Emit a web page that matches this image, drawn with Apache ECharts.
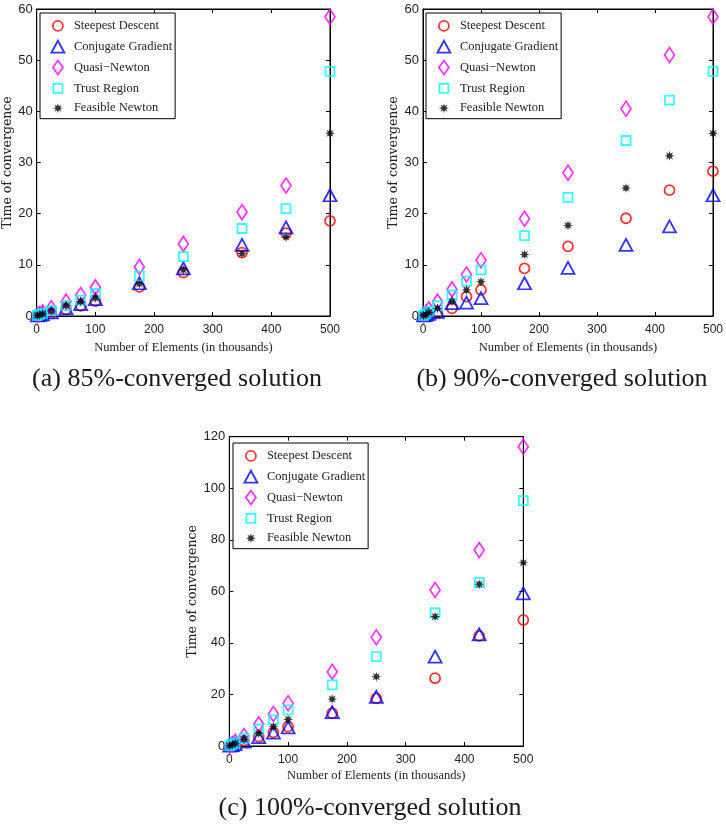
<!DOCTYPE html>
<html>
<head>
<meta charset="utf-8">
<script src="https://cdn.jsdelivr.net/npm/echarts@6/dist/echarts.min.js"></script>
<style>
html,body{margin:0;padding:0;background:#fff;}
#chart{width:726px;height:825px;}
</style>
</head>
<body>
<div id="chart"></div>
<script>
// ---- data ----
const seriesNames = ['Steepest Descent', 'Conjugate Gradient', 'Quasi\u2212Newton', 'Trust Region', 'Feasible Newton'];
const xVals = [1, 5, 10, 25, 50, 75, 100, 175, 250, 350, 425, 500];

// (a) 85%-converged
const sdA = [0.1, 0.15, 0.3, 0.5, 1.3, 2.0, 2.9, 5.7, 8.5, 12.4, 16.2, 18.6];
const cgA = [0.1, 0.2, 0.3, 0.7, 1.5, 2.3, 3.3, 6.4, 9.3, 13.9, 17.3, 23.6];
const qnA = [0.2, 0.4, 0.7, 1.5, 2.8, 4.1, 5.6, 9.6, 14.1, 20.3, 25.5, 58.5];
const trA = [0.1, 0.3, 0.5, 1.0, 2.0, 3.1, 4.4, 7.8, 11.6, 17.1, 21.0, 47.8];
const fnA = [0.1, 0.2, 0.4, 1.0, 2.1, 2.8, 3.5, 6.25, 9.0, 12.2, 15.4, 35.7];

// (b) 90%-converged
const sdB = [0.1, 0.2, 0.3, 0.5, 1.5, 3.8, 5.1, 9.3, 13.6, 19.1, 24.6, 28.3];
const cgB = [0.1, 0.2, 0.4, 0.8, 2.5, 2.6, 3.5, 6.4, 9.4, 13.9, 17.5, 23.6];
const qnB = [0.2, 0.6, 1.3, 2.8, 5.2, 8.1, 10.9, 19.0, 28.0, 40.5, 51.0, 58.5];
const trB = [0.1, 0.4, 0.9, 2.0, 4.1, 6.8, 9.0, 15.7, 23.2, 34.3, 42.2, 47.8];
const fnB = [0.1, 0.3, 0.7, 1.5, 2.8, 5.1, 6.7, 12.0, 17.7, 25.0, 31.3, 35.7];

// (c) 100%-converged
const sdC = [0.1, 0.4, 0.8, 2.1, 3.6, 5.3, 7.5, 12.7, 18.5, 26.3, 42.7, 48.9];
const cgC = [0.1, 0.3, 0.7, 1.7, 3.4, 5.2, 7.2, 13.1, 19.1, 34.7, 43.3, 59.2];
const qnC = [0.2, 0.8, 1.6, 3.9, 8.4, 12.4, 16.6, 28.8, 42.2, 60.5, 76.0, 116.1];
const trC = [0.1, 0.6, 1.2, 3.0, 6.5, 10.1, 14.0, 23.7, 34.7, 51.7, 63.4, 95.2];
const fnC = [0.1, 0.5, 1.0, 2.6, 4.9, 7.5, 10.3, 18.2, 26.9, 50.2, 62.8, 71.1];

const captions = ['(a) 85%-converged solution', '(b) 90%-converged solution', '(c) 100%-converged solution'];
const xName = 'Number of Elements (in thousands)';
const yName = 'Time of convergence';

// ---- styling / layout ----
function starPts(cx, cy, ro, ri) {
  const pts = [];
  const n = 8;
  for (let i = 0; i < n * 2; i++) {
    const r = i % 2 === 0 ? ro : ri;
    const a = Math.PI * i / n - Math.PI / 2;
    pts.push((cx + r * Math.cos(a)).toFixed(2) + ' ' + (cy + r * Math.sin(a)).toFixed(2));
  }
  return 'M' + pts.join(' L') + ' Z';
}
const starSymbol = 'path://' + starPts(0, 0, 10, 4.5);

const styles = [
  { symbol: 'circle', size: 10, color: '#ff0000', hollow: true },
  { symbol: 'triangle', size: [13, 12], color: '#0000ff', hollow: true },
  { symbol: 'diamond', size: [10, 15], color: '#ff00ff', hollow: true },
  { symbol: 'rect', size: 9, color: '#00ffff', hollow: true },
  { symbol: starSymbol, size: 10, color: '#000000', hollow: false }
];
// legend icons: 22x15 pixel boxes (corner moveTo points fix the box), shape centred at (11, 7.5)
const box = 'path://M0 0 M22 15 ';
const legendIcons = [
  box + 'M6 7.5 A5 5 0 1 0 16 7.5 A5 5 0 1 0 6 7.5 Z',
  box + 'M11 1.5 L17.5 13.5 L4.5 13.5 Z',
  box + 'M11 0.5 L16 7.5 L11 14.5 L6 7.5 Z',
  box + 'M6.5 3 L15.5 3 L15.5 12 L6.5 12 Z',
  box + starPts(11, 7.5, 5, 2.3)
];

const panels = [
  { data: [sdA, cgA, qnA, trA, fnA], left: 36.7, top: 9, width: 293.3, height: 307, ymax: 60, yint: 10,
    xGap: 25, yGap: 21, legendLeft: 40, legendTop: 13, caption: [177, 379] },
  { data: [sdB, cgB, qnB, trB, fnB], left: 423, top: 9, width: 293.3, height: 307, ymax: 60, yint: 10,
    xGap: 25, yGap: 18.5, legendLeft: 426, legendTop: 13, caption: [562, 379] },
  { data: [sdC, cgC, qnC, trC, fnC], left: 229.3, top: 436.7, width: 294, height: 309.3, ymax: 120, yint: 20,
    xGap: 23, yGap: 25.5, legendLeft: 233, legendTop: 443, caption: [370, 808] }
];

const grid = [], xAxis = [], yAxis = [], series = [], legend = [];
const labelColor = '#222';
panels.forEach((p, gi) => {
  grid.push({ left: p.left, top: p.top, width: p.width, height: p.height, show: true,
    borderColor: '#000', borderWidth: 1, backgroundColor: '#fff' });
  const tick = { show: true, inside: true, length: 4, lineStyle: { color: '#000', width: 1 } };
  const line = { show: true, onZero: false, lineStyle: { color: '#000', width: 1 } };
  xAxis.push({ gridIndex: gi, type: 'value', min: 0, max: 500, interval: 100, position: 'bottom',
    name: xName, nameLocation: 'middle', nameGap: p.xGap,
    nameTextStyle: { fontFamily: 'Liberation Serif', fontSize: 12.5, color: labelColor },
    axisLine: line, axisTick: tick, splitLine: { show: false },
    axisLabel: { fontFamily: 'Liberation Sans', fontSize: 12, color: labelColor, margin: 8 } });
  xAxis.push({ gridIndex: gi, type: 'value', min: 0, max: 500, interval: 100, position: 'top',
    axisLine: line, axisTick: tick, splitLine: { show: false }, axisLabel: { show: false } });
  yAxis.push({ gridIndex: gi, type: 'value', min: 0, max: p.ymax, interval: p.yint, position: 'left',
    name: yName, nameLocation: 'middle', nameGap: p.yGap, nameRotate: 90,
    nameTextStyle: { fontFamily: 'DejaVu Serif', fontSize: 12.5, color: labelColor },
    axisLine: line, axisTick: tick, splitLine: { show: false },
    axisLabel: { fontFamily: 'Liberation Sans', fontSize: 13, color: labelColor, margin: 4 } });
  yAxis.push({ gridIndex: gi, type: 'value', min: 0, max: p.ymax, interval: p.yint, position: 'right',
    axisLine: line, axisTick: tick, splitLine: { show: false }, axisLabel: { show: false } });

  p.data.forEach((vals, si) => {
    const st = styles[si];
    series.push({
      type: 'scatter', name: seriesNames[si],
      xAxisIndex: gi * 2, yAxisIndex: gi * 2,
      symbol: st.symbol, symbolSize: st.size,
      itemStyle: st.hollow
        ? { color: 'rgba(255,255,255,0)', borderColor: st.color, borderWidth: 1.8 }
        : { color: st.color, borderWidth: 0 },
      emphasis: { disabled: true },
      data: xVals.map((x, i) => [x, vals[i]])
    });
  });

  legend.push({
    show: true, orient: 'vertical', left: p.legendLeft, top: p.legendTop,
    backgroundColor: '#fff', borderColor: '#000', borderWidth: 1,
    padding: [4.5, 3, 3, 6], itemWidth: 22, itemHeight: 15, itemGap: 4,
    textStyle: { fontFamily: 'Liberation Serif', fontSize: 12.5, color: labelColor },
    selectedMode: false,
    data: seriesNames.map((n, si) => ({
      name: n,
      icon: legendIcons[si],
      itemStyle: styles[si].hollow
        ? { color: 'rgba(255,255,255,0)', borderColor: styles[si].color, borderWidth: 1.8 }
        : { color: styles[si].color, borderWidth: 0 }
    }))
  });
});

const chart = echarts.init(document.getElementById('chart'), null, { renderer: 'canvas' });
chart.setOption({
  animation: false,
  backgroundColor: '#fff',
  grid, xAxis, yAxis, series, legend,
  graphic: panels.map((p, gi) => ({
    type: 'text', x: p.caption[0], y: p.caption[1],
    style: { text: captions[gi], textAlign: 'center', textVerticalAlign: 'middle',
      font: '26px "Liberation Serif"', fill: '#1a1a1a' }
  }))
});
</script>
</body>
</html>
